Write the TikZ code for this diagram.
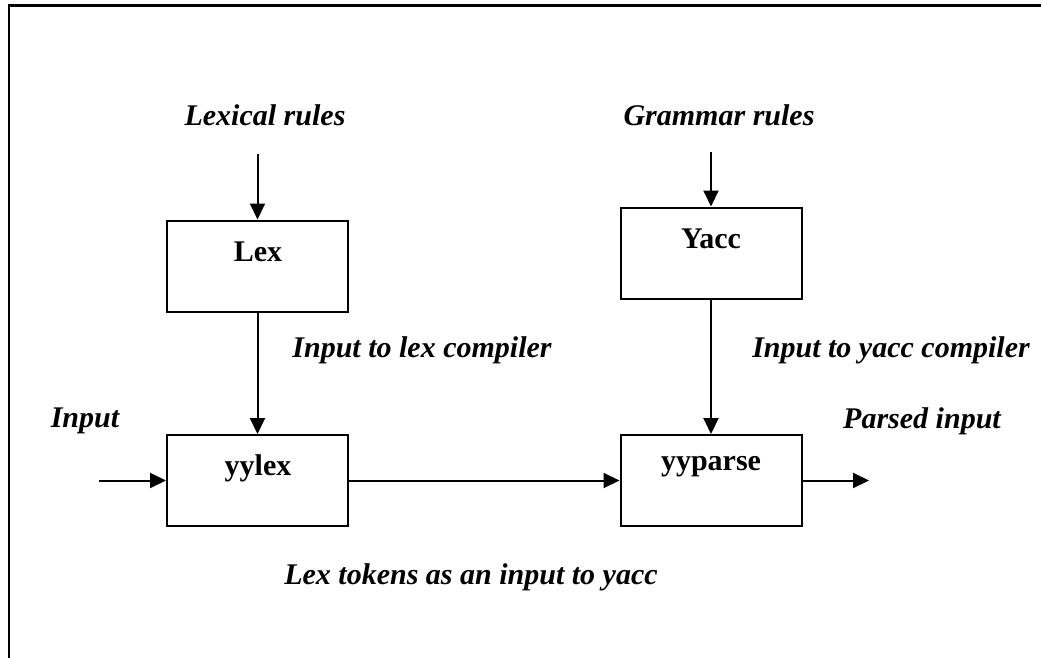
\documentclass[tikz,border=0pt]{standalone}
\usepackage{fontspec}
\setmainfont{Liberation Serif}
\usetikzlibrary{arrows.meta}

\begin{document}
\begin{tikzpicture}[x=1pt,y=-1pt,
  box/.style={draw, line width=2pt, minimum width=181pt, minimum height=91pt, inner sep=0pt},
  boxtext/.style={font=\fontsize{30}{36}\selectfont\bfseries, inner sep=0pt},
  lbl/.style={font=\fontsize{30}{36}\selectfont\bfseries\itshape, inner sep=0pt},
  flow/.style={line width=2pt, -{Triangle[length=16pt,width=15pt]}}
]
\useasboundingbox (0,0) rectangle (1041,658);
% page frame
\draw[line width=2.5pt] (9,670) -- (9,5.5) -- (1050,5.5);

% processing boxes
\node[box] (lex)     at (257.5,266)   {};
\node[box] (yylex)   at (257.5,480.5) {};
\node[box] (yacc)    at (711,253)     {};
\node[box] (yyparse) at (711,480.5)   {};

\node[boxtext] (lexT)     at (258,252) {Lex};
\node[boxtext] (yylexT)   at (258,468) {yylex};
\node[boxtext] (yaccT)    at (711,239) {Yacc};
\node[boxtext] (yyparseT) at (711,467) {yyparse};

% labels
\node[lbl] (lexrules)  at (265,115) {Lexical rules};
\node[lbl] (gramrules) at (719,115) {Grammar rules};
\node[lbl] (lexcomp)   at (422,350) {Input to lex compiler};
\node[lbl] (yacccomp)  at (891,350) {Input to yacc compiler};
\node[lbl] (inputL)    at (85,421)  {Input};
\node[lbl] (parsedL)   at (922,421) {Parsed input};
\node[lbl] (tokensL)   at (471,577) {Lex tokens as an input to yacc};

% free ends of connectors
\coordinate (lexsrc)  at (257.5,154);
\coordinate (yaccsrc) at (711,152);
\coordinate (insrc)   at (99,480.5);
\coordinate (outdst)  at (869,480.5);

% connectors
\draw[flow] (lexsrc) -- (lex.north);
\draw[flow] (lex.south) -- (yylex.north);
\draw[flow] (yaccsrc) -- (yacc.north);
\draw[flow] (yacc.south) -- (yyparse.north);
\draw[flow] (insrc) -- (yylex.west);
\draw[flow] (yylex.east) -- (yyparse.west);
\draw[flow] (yyparse.east) -- (outdst);
\end{tikzpicture}
\end{document}
